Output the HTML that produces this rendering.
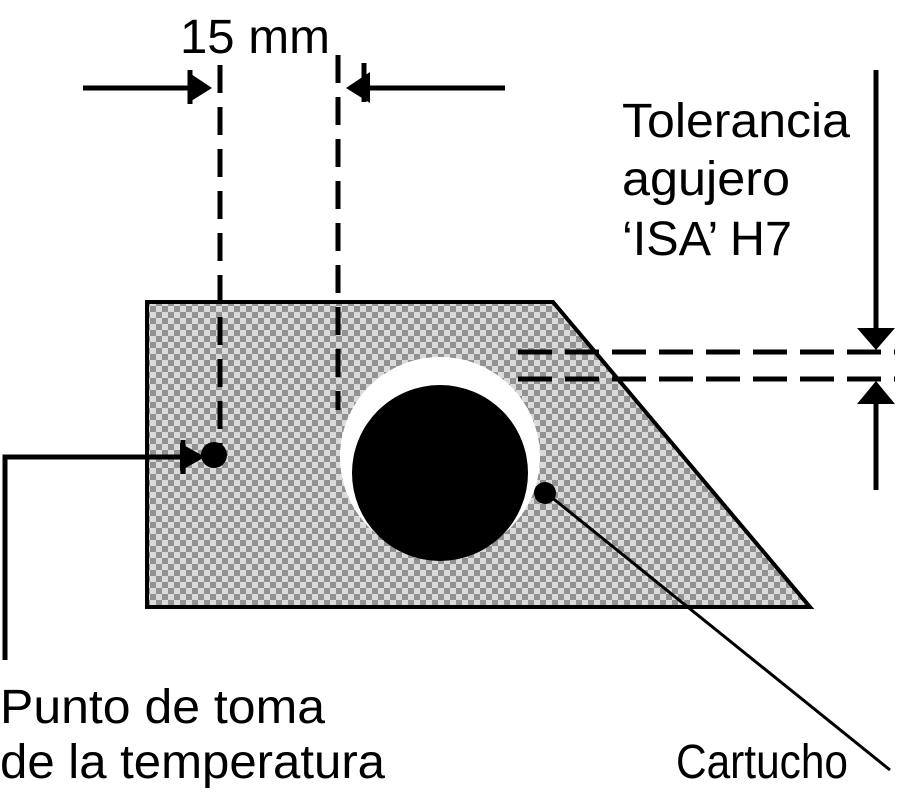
<!DOCTYPE html>
<html><head><style>html,body{margin:0;padding:0;background:#fff}svg{display:block}</style></head>
<body>
<svg width="909" height="800" viewBox="0 0 909 800" xmlns="http://www.w3.org/2000/svg">
<defs>
<pattern id="chk" width="12" height="12" patternUnits="userSpaceOnUse">
<rect width="12" height="12" fill="#dadada"/>
<rect x="0" y="0" width="6" height="6" fill="#929292"/>
<rect x="6" y="6" width="6" height="6" fill="#929292"/>
</pattern>
</defs>
<polygon points="147,302 553,302 810,607 147,607" fill="url(#chk)" stroke="#000" stroke-width="4"/>
<circle cx="440" cy="457" r="100" fill="#fff"/>
<circle cx="440" cy="473" r="88" fill="#000"/>
<g stroke="#000" stroke-width="5" fill="none">
<line x1="220" y1="65" x2="220" y2="452" stroke-dasharray="28,14"/>
<line x1="338" y1="55" x2="338" y2="410" stroke-dasharray="28,14"/>
<line x1="518" y1="352" x2="895" y2="352" stroke-dasharray="34,13"/>
<line x1="518" y1="379" x2="895" y2="379" stroke-dasharray="34,13"/>
<line x1="83" y1="88" x2="195" y2="88"/>
<line x1="505" y1="88" x2="360" y2="88"/>
<line x1="876" y1="70" x2="876" y2="330"/>
<line x1="876" y1="400" x2="876" y2="490"/>
<polyline points="5,660 5,457 180,457"/>
<line x1="190" y1="70" x2="190" y2="104"/>
<line x1="364" y1="63" x2="364" y2="102"/>
<line x1="183" y1="440" x2="183" y2="474"/>
</g>
<line x1="545" y1="492" x2="890" y2="770" stroke="#000" stroke-width="3"/>
<polygon points="188,72 212,88 188,103" fill="#000"/>
<polygon points="370,72 346,88 370,103" fill="#000"/>
<polygon points="857,328 895,328 876,350" fill="#000"/>
<polygon points="857,404 895,404 876,381" fill="#000"/>
<polygon points="180,443 205,457 180,471" fill="#000"/>
<circle cx="214" cy="455" r="13" fill="#000"/>
<circle cx="545" cy="493" r="11" fill="#000"/>
<g font-family="Liberation Sans, Arial, sans-serif" font-size="48" fill="#000">
<text x="180" y="53" textLength="150" lengthAdjust="spacingAndGlyphs">15 mm</text>
<text x="622" y="137" textLength="228" lengthAdjust="spacingAndGlyphs">Tolerancia</text>
<text x="622" y="195" textLength="168" lengthAdjust="spacingAndGlyphs">agujero</text>
<text x="622" y="255" textLength="170" lengthAdjust="spacingAndGlyphs">‘ISA’ H7</text>
<text x="0" y="723" textLength="325" lengthAdjust="spacingAndGlyphs">Punto de toma</text>
<text x="0" y="778" textLength="385" lengthAdjust="spacingAndGlyphs">de la temperatura</text>
<text x="676" y="778" textLength="172" lengthAdjust="spacingAndGlyphs">Cartucho</text>
</g>
</svg>
</body></html>
